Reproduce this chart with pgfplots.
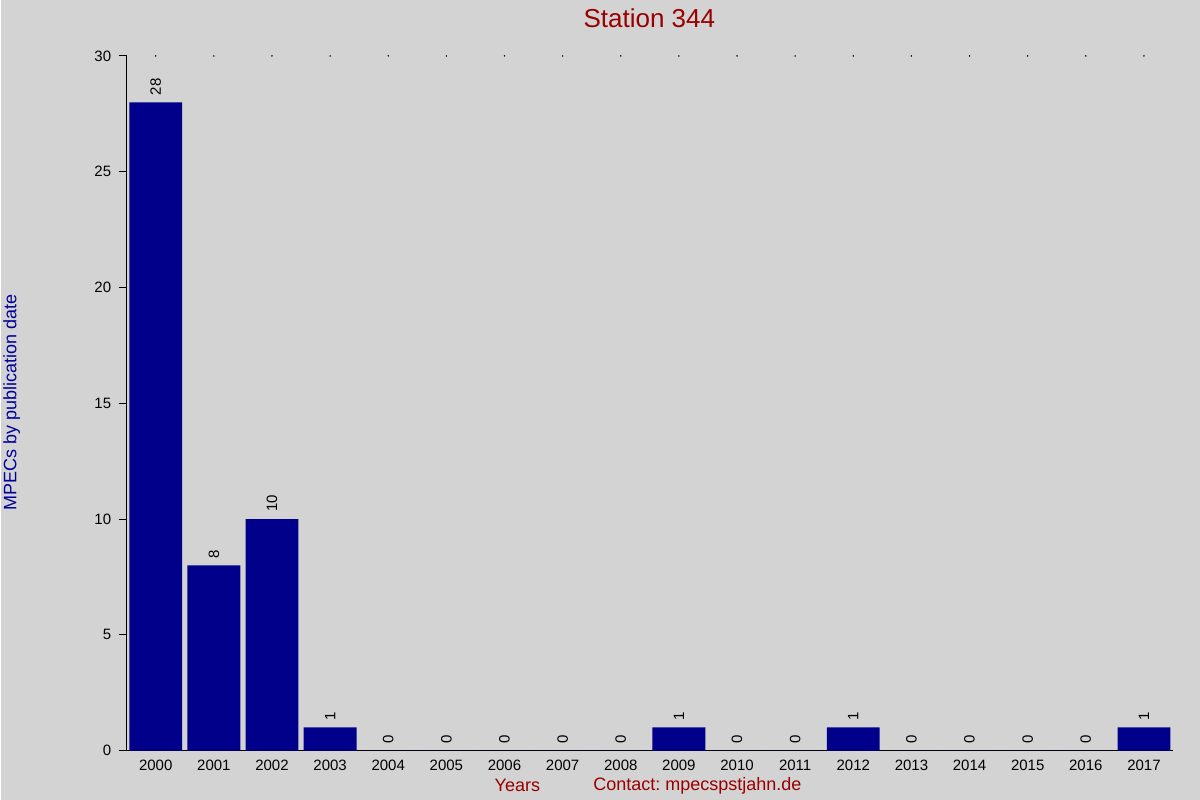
\documentclass[border=0pt]{standalone}
\usepackage{pgfplots}
\pgfplotsset{compat=1.18}
\usepackage{fontspec}
\setmainfont{Liberation Sans}
\frenchspacing

\definecolor{bgray}{RGB}{211,211,211}
\definecolor{barblue}{RGB}{0,0,139}
\definecolor{titlered}{RGB}{153,0,0}
\definecolor{labblue}{RGB}{0,0,153}

\begin{document}
\begin{tikzpicture}[x=1pt,y=1pt]
	\fill[bgray] (0,0) rectangle (1200,800);
	\begin{axis}[
		at={(126pt,49pt)}, anchor=south west,
		scale only axis,
		width=1047pt, height=695pt,
		ybar, bar width=0.91,
		xmin=-0.5, xmax=17.5,
		ymin=0, ymax=30,
		axis x line*=bottom,
		axis y line*=left,
		axis line style={line width=1pt, -},
		xtick={0,...,17},
		xticklabels={2000,2001,2002,2003,2004,2005,2006,2007,2008,2009,2010,2011,2012,2013,2014,2015,2016,2017},
		x tick style={draw=none},
		ytick={0,5,...,30},
		y tick style={line width=1pt, black},
		tick align=outside,
		major tick length=8pt,
		ticklabel style={font=\fontsize{15}{18}\selectfont},
		xticklabel style={yshift=2pt},
		yticklabel style={xshift=-4pt},
		/pgf/number format/assume math mode=true,
		nodes near coords,
		nodes near coords style={rotate=90, anchor=west, inner xsep=7pt, inner ysep=0pt,
			font=\fontsize{15}{18}\selectfont, black},
		clip=false,
	]
		% yearly counts, 2000..2017
		\addplot[fill=barblue, draw=none] coordinates {
			(0,28) (1,8) (2,10) (3,1) (4,0) (5,0) (6,0) (7,0) (8,0)
			(9,1) (10,0) (11,0) (12,1) (13,0) (14,0) (15,0) (16,0) (17,1)
		};
		% small dots along the top
		\addplot[only marks, mark=*, mark size=0.5pt, black, nodes near coords={}, forget plot] coordinates {
			(0,30) (1,30) (2,30) (3,30) (4,30) (5,30) (6,30) (7,30) (8,30)
			(9,30) (10,30) (11,30) (12,30) (13,30) (14,30) (15,30) (16,30) (17,30)
		};
	\end{axis}
	\node[titlered, font=\fontsize{26}{30}\selectfont] at (649,782) {Station 344};
	\node[labblue, rotate=90, font=\fontsize{18}{22}\selectfont] at (11,397) {MPECs by publication date};
	\node[titlered, font=\fontsize{18}{22}\selectfont] at (517,14) {Years};
	\node[titlered, font=\fontsize{18}{22}\selectfont] at (697,14) {Contact: mpecspstjahn.de};
\end{tikzpicture}
\end{document}
